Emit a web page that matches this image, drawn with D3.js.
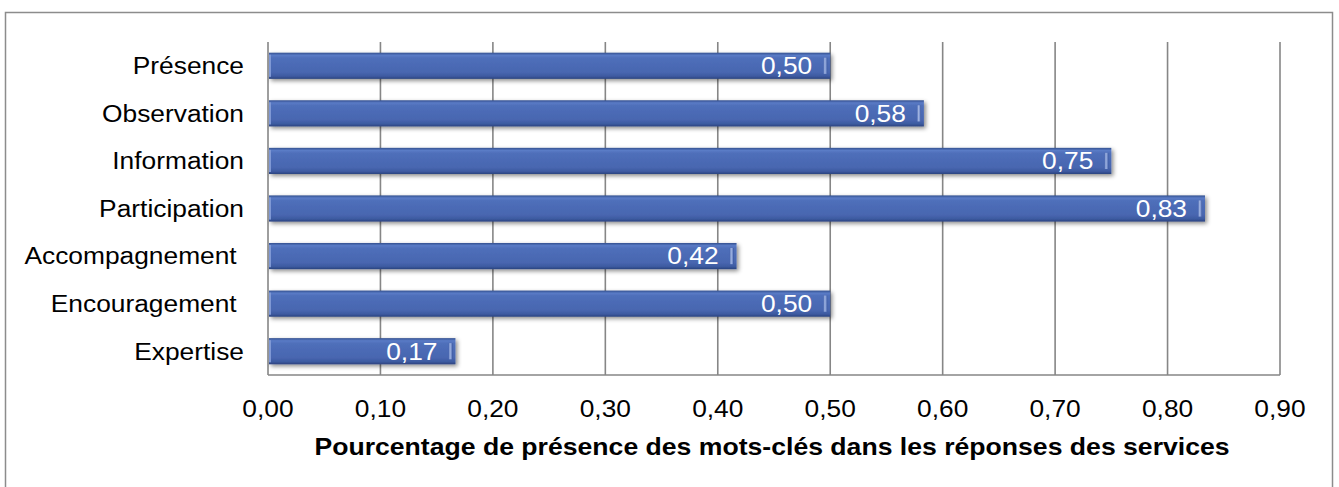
<!DOCTYPE html>
<html><head><meta charset="utf-8">
<script src="https://cdn.jsdelivr.net/npm/d3@7"></script>
<style>body{margin:0;background:#fff}text{font-family:Arial,"Liberation Sans",sans-serif}</style>
</head><body><svg id="c" width="1339" height="487"></svg>
<script>
const categories = ["Présence","Observation","Information","Participation","Accompagnement ","Encouragement ","Expertise"];
const values = [0.5, 0.5833, 0.75, 0.8333, 0.4167, 0.5, 0.1667];
const ticks = [0,0.1,0.2,0.3,0.4,0.5,0.6,0.7,0.8,0.9];
const axisTitle = "Pourcentage de présence des mots-clés dans les réponses des services";

const svg = d3.select("#c");
const SX = 1.145, FS = 23;
const x = d3.scaleLinear().domain([0,0.9]).range([268,1280]);
const y = d3.scaleBand().domain(categories).range([42,375]).paddingInner(0.45).paddingOuter(0.225);
const fmt = v => d3.format(".2f")(v).replace(".", ",");

const defs = svg.append("defs");
const g = defs.append("linearGradient").attr("id","bg").attr("x1",0).attr("x2",0).attr("y1",0).attr("y2",1);
[[0,"#33508f"],[0.1,"#5a7bc6"],[0.2,"#4f6fba"],[0.75,"#4866b0"],[0.9,"#3d5aa0"],[1,"#2a437f"]].forEach(s=>g.append("stop").attr("offset",s[0]).attr("stop-color",s[1]));
const cap = defs.append("linearGradient").attr("id","cap").attr("x1",0).attr("x2",1).attr("y1",0).attr("y2",0);
[[0,"#4866b0"],[0.4,"#9fb3e0"],[0.7,"#7d96d2"],[1,"#3b579c"]].forEach(s=>cap.append("stop").attr("offset",s[0]).attr("stop-color",s[1]));
const f = defs.append("filter").attr("id","sh").attr("x","-5%").attr("y","-30%").attr("width","110%").attr("height","170%");
f.append("feDropShadow").attr("dx",2).attr("dy",2).attr("stdDeviation",2.2).attr("flood-color","#000").attr("flood-opacity",0.45);

// outer border
svg.append("rect").attr("x",5.5).attr("y",12.5).attr("width",1327).attr("height",490)
  .attr("fill","none").attr("stroke","#8c8c8c").attr("stroke-width",1.5);

// gridlines
svg.append("g").selectAll("line").data(ticks).join("line")
  .attr("x1",d=>x(d)).attr("x2",d=>x(d)).attr("y1",42).attr("y2",375)
  .attr("stroke","#868686").attr("stroke-width",1.6);
svg.append("line").attr("x1",x(0)).attr("x2",x(0.9)).attr("y1",375).attr("y2",375)
  .attr("stroke","#868686").attr("stroke-width",1.6);

// bars
const bars = svg.append("g").selectAll("g").data(categories).join("g");
bars.append("rect").attr("x",x(0)+1).attr("y",d=>y(d)).attr("height",y.bandwidth())
  .attr("width",(d,i)=>x(values[i])-x(0)-1).attr("fill","url(#bg)").attr("filter","url(#sh)");
bars.append("rect").attr("x",x(0)+1).attr("y",d=>y(d)+2).attr("height",y.bandwidth()-4)
  .attr("width",2).attr("fill","#7f98d4");
bars.append("rect").attr("x",(d,i)=>x(values[i])-7).attr("y",d=>y(d)+5).attr("height",y.bandwidth()-10)
  .attr("width",4).attr("fill","url(#cap)");
bars.append("text").attr("transform",(d,i)=>`translate(${x(values[i])-18},${y(d)+y.bandwidth()/2+8.3}) scale(${SX},1)`)
  .attr("text-anchor","end").attr("fill","#fff").attr("font-size",FS).text((d,i)=>fmt(values[i]));

// category labels
svg.append("g").selectAll("text").data(categories).join("text")
  .attr("transform",d=>`translate(244,${y(d)+y.bandwidth()/2+8.3}) scale(${SX},1)`)
  .attr("text-anchor","end").attr("font-size",FS).attr("fill","#000").style("white-space","pre").text(d=>d);

// tick labels
svg.append("g").selectAll("text").data(ticks).join("text")
  .attr("transform",d=>`translate(${x(d)},417) scale(${SX},1)`)
  .attr("text-anchor","middle").attr("font-size",FS).attr("fill","#000").text(d=>fmt(d));

// axis title
svg.append("text").attr("transform",`translate(${(x(0)+x(0.9))/2 - 2},455) scale(1.157,1)`)
  .attr("text-anchor","middle").attr("font-size",FS).attr("font-weight","bold").attr("fill","#000").text(axisTitle);
</script></body></html>
